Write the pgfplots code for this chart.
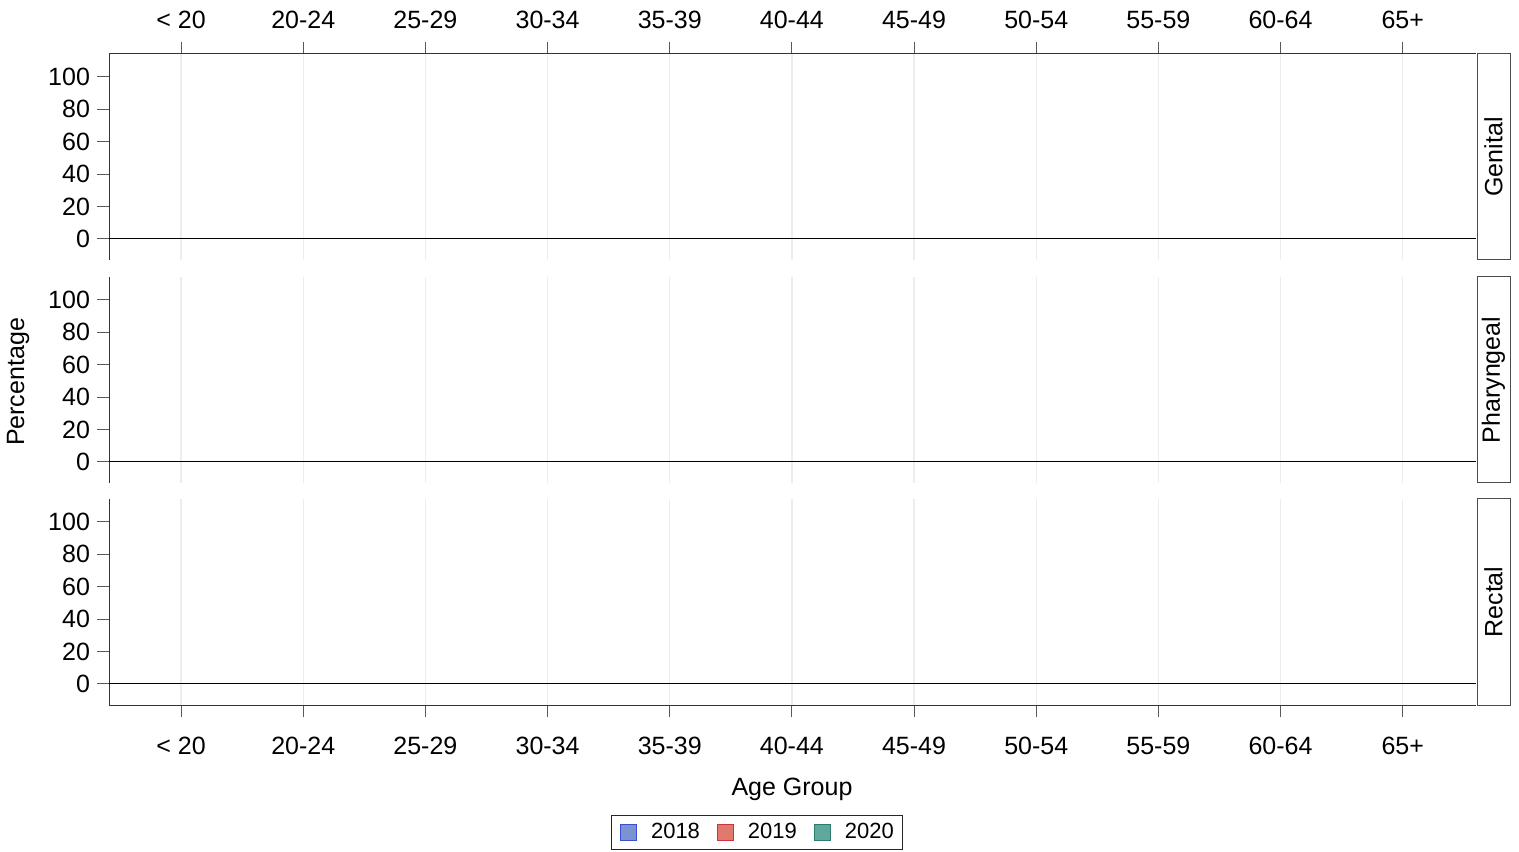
\documentclass[border=0pt]{standalone}
\usepackage{pgfplots}
\pgfplotsset{compat=1.18}
\usepackage{fontspec}
\setmainfont{Liberation Sans}
\definecolor{c18}{HTML}{7B93D3}
\definecolor{c18d}{HTML}{3A4FD0}
\definecolor{c19}{HTML}{E07A6E}
\definecolor{c19d}{HTML}{D03040}
\definecolor{c20}{HTML}{5FA89C}
\definecolor{c20d}{HTML}{2E7A6E}
\newcommand{\fs}{\fontsize{12.5}{15}\selectfont}
\pgfplotsset{panel/.style={
  scale only axis, width=683.5pt, height=103pt, anchor=south west,
  xmin=-0.59, xmax=10.6, ymin=-13, ymax=114,
  xtick={0,...,10},
  xticklabels={< 20,20-24,25-29,30-34,35-39,40-44,45-49,50-54,55-59,60-64,65+},
  ytick={0,20,40,60,80,100},
  tick align=outside, major tick length=6pt,
  tick style={black!65, line width=0.5pt},
  axis line style={black!80, line width=0.5pt},
  xmajorgrids, major grid style={black!7, line width=0.6pt},
  /pgf/number format/assume math mode=true,
  tick label style={font=\fs},
  clip=false,
}}
\newcommand{\bars}{%
  \addplot[ybar, forget plot, bar width=8pt, bar shift=-9pt, fill=c18, draw=none] coordinates {(0,0) (1,0) (2,0) (3,0) (4,0) (5,0) (6,0) (7,0) (8,0) (9,0) (10,0)};
  \addplot[ybar, forget plot, bar width=8pt, bar shift=0pt, fill=c19, draw=none] coordinates {(0,0) (1,0) (2,0) (3,0) (4,0) (5,0) (6,0) (7,0) (8,0) (9,0) (10,0)};
  \addplot[ybar, forget plot, bar width=8pt, bar shift=9pt, fill=c20, draw=none] coordinates {(0,0) (1,0) (2,0) (3,0) (4,0) (5,0) (6,0) (7,0) (8,0) (9,0) (10,0)};
  \draw[black, line width=0.5pt] (axis cs:-0.59,0) -- (axis cs:10.6,0);
}
\newcommand{\strip}[1]{%
  \draw[black!70, line width=0.5pt] ([xshift=0.5pt]rel axis cs:1,0) rectangle ([xshift=17pt]rel axis cs:1,1);
  \node[rotate=90, font=\fs] at ([xshift=8.75pt]rel axis cs:1,0.5) {#1};
}
\begin{document}
\begin{tikzpicture}
\useasboundingbox (0pt,0pt) rectangle (759.5pt,425.5pt);
\begin{axis}[panel, at={(54.5pt,295.5pt)}, axis x line*=top, axis y line*=left,
  xticklabel shift=3pt]
\bars
\strip{Genital}
\end{axis}
\begin{axis}[panel, at={(54.5pt,184pt)}, axis x line*=bottom, axis y line*=left,
  x axis line style={draw=none}, xtick style={draw=none}, xticklabels={}]
\bars
\strip{Pharyngeal}
\end{axis}
\begin{axis}[panel, at={(54.5pt,73pt)}, axis x line*=bottom, axis y line*=left,
  xticklabel shift=6.5pt,
  legend columns=3,
  legend style={at={(0.474,-0.619)}, anchor=center, draw=black!85, line width=0.5pt,
    font=\fontsize{11}{13}\selectfont, inner xsep=4.5pt, inner ysep=4pt,
    nodes={inner sep=0pt},
    /tikz/every odd column/.append style={column sep=7pt},
    /tikz/every even column/.append style={column sep=8.5pt}},
  legend image code/.code={\draw[#1, line width=0.5pt] (0pt,-4pt) rectangle (8pt,4pt);}]
\bars
\strip{Rectal}
\addlegendimage{fill=c18, draw=c18d}
\addlegendentry{2018}
\addlegendimage{fill=c19, draw=c19d}
\addlegendentry{2019}
\addlegendimage{fill=c20, draw=c20d}
\addlegendentry{2020}
\end{axis}
\node[rotate=90, font=\fs] at (9pt,234.5pt) {Percentage};
\node[font=\fs] at (396pt,31pt) {Age Group};
\end{tikzpicture}
\end{document}
